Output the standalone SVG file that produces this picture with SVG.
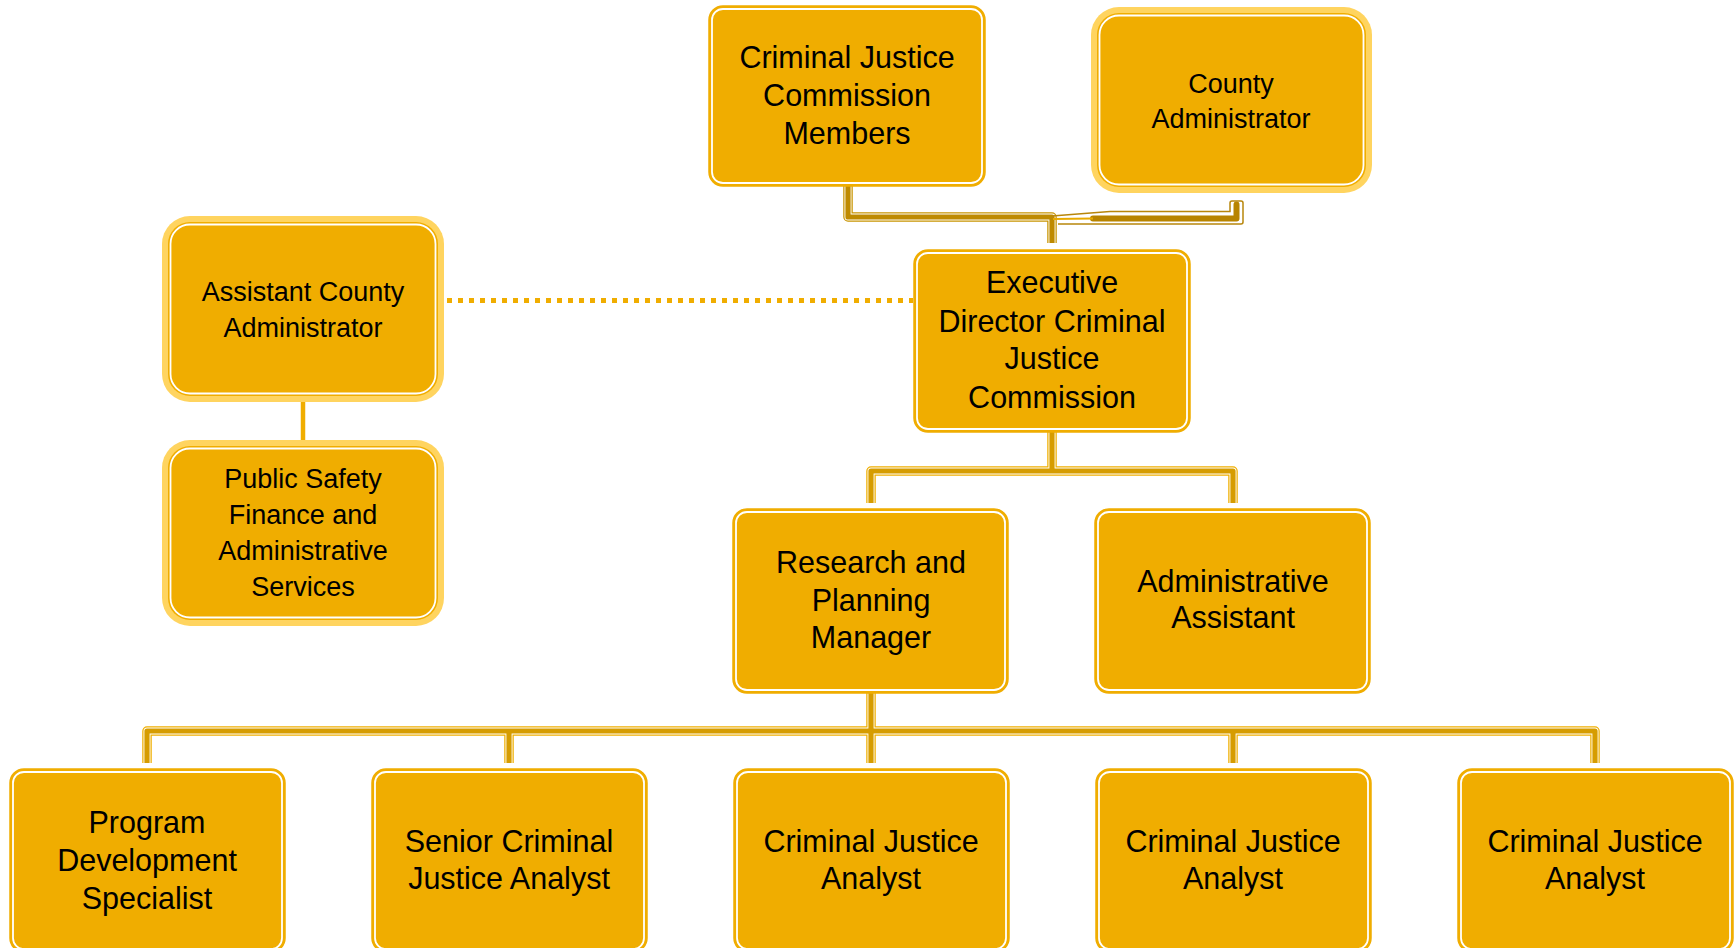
<svg xmlns="http://www.w3.org/2000/svg" xmlns:xlink="http://www.w3.org/1999/xlink" width="1735" height="948" viewBox="0 0 1735 948">
<style>
.bg{fill:#FFFFFF}
.box{fill:#F0AD00;stroke:#F0AD00;stroke-width:1.5}
.inner{fill:none;stroke:#FFFFFF;stroke-width:1.8}
.glow{fill:#FFD45F}
.gbody{fill:#F0AD00}
.t{font-family:"Liberation Sans",Arial,sans-serif;font-size:30.5px;fill:#000000;text-anchor:middle}
.ts{font-family:"Liberation Sans",Arial,sans-serif;font-size:27px;fill:#000000;text-anchor:middle}
.co{fill:none;stroke:#EFAE00;stroke-width:9.5;stroke-linejoin:round}
.cw{fill:none;stroke:#FFFFFF;stroke-width:7;stroke-linejoin:round}
.cd{fill:none;stroke:#D69C00;stroke-width:5.2;stroke-linejoin:round}
.uo{fill:none;stroke:#C89400;stroke-width:9.5;stroke-linejoin:round}
.ud{fill:none;stroke:#BE8A00;stroke-width:5.2;stroke-linejoin:round}
.dot{fill:none;stroke:#F0AD00;stroke-width:5;stroke-dasharray:5 6}
.solid{fill:none;stroke:#F0AD00;stroke-width:4.5}
</style>
<defs>
<path id="p-cjc" d="M848 186 V217 H1052 V243"/>
<path id="p-exec" d="M1052 432 V471 M871 503 V471 H1233 V503"/>
<path id="p-rpm" d="M871 693 V731 M147 763 V731 H1595 V763 M509 731 V763 M871 731 V763 M1233 731 V763"/>
</defs>
<rect class="bg" x="0" y="0" width="1735" height="948"/>
<g id="connectors">
<use xlink:href="#p-cjc" class="uo"/>
<use xlink:href="#p-cjc" class="cw"/>
<use xlink:href="#p-cjc" class="ud"/>
<path d="M1052 216 L1110 211.5 H1230 V203 a2 2 0 0 1 2 -2 H1241 a2 2 0 0 1 2 2 V222 a2 2 0 0 1 -2 2 H1058" fill="none" stroke="#B8860B" stroke-width="1.5"/>
<path d="M1093 218.5 H1236.5 V204.5" fill="none" stroke="#B88400" stroke-width="6" stroke-linecap="round" stroke-linejoin="round"/>
<path d="M1053 219 L1093 218.5" fill="none" stroke="#E8AA00" stroke-width="2"/>
<use xlink:href="#p-exec" class="co"/>
<use xlink:href="#p-exec" class="cw"/>
<use xlink:href="#p-exec" class="cd"/>
<use xlink:href="#p-rpm" class="co"/>
<use xlink:href="#p-rpm" class="cw"/>
<use xlink:href="#p-rpm" class="cd"/>
<path class="dot" d="M447 300.5 H913"/>
<path class="solid" d="M303 401 V440"/>
</g>
<g id="node-cjc-members">
<rect class="box" x="709" y="6" width="276" height="180" rx="14"/>
<rect class="inner" x="712" y="9" width="270" height="174" rx="11"/>
<text class="t"><tspan x="847" y="68">Criminal Justice</tspan><tspan x="847" y="106">Commission</tspan><tspan x="847" y="144">Members</tspan></text>
</g>
<g id="node-county-admin">
<rect class="glow" x="1091" y="7" width="281" height="186" rx="28"/>
<rect class="gbody" x="1097" y="13" width="269" height="174" rx="22"/>
<rect class="inner" x="1099.5" y="15.5" width="264" height="169" rx="19.5"/>
<text class="ts"><tspan x="1231" y="93">County</tspan><tspan x="1231" y="128">Administrator</tspan></text>
</g>
<g id="node-asst-county-admin">
<rect class="glow" x="162" y="216" width="282" height="186" rx="28"/>
<rect class="gbody" x="168" y="222" width="270" height="174" rx="22"/>
<rect class="inner" x="170.5" y="224.5" width="265" height="169" rx="19.5"/>
<text class="ts"><tspan x="303" y="301">Assistant County</tspan><tspan x="303" y="337">Administrator</tspan></text>
</g>
<g id="node-public-safety">
<rect class="glow" x="162" y="440" width="282" height="186" rx="28"/>
<rect class="gbody" x="168" y="446" width="270" height="174" rx="22"/>
<rect class="inner" x="170.5" y="448.5" width="265" height="169" rx="19.5"/>
<text class="ts"><tspan x="303" y="488">Public Safety</tspan><tspan x="303" y="524">Finance and</tspan><tspan x="303" y="560">Administrative</tspan><tspan x="303" y="596">Services</tspan></text>
</g>
<g id="node-exec-director">
<rect class="box" x="914" y="250" width="276" height="182" rx="14"/>
<rect class="inner" x="917" y="253" width="270" height="176" rx="11"/>
<text class="t"><tspan x="1052" y="293">Executive</tspan><tspan x="1052" y="332">Director Criminal</tspan><tspan x="1052" y="369">Justice</tspan><tspan x="1052" y="408">Commission</tspan></text>
</g>
<g id="node-research-planning">
<rect class="box" x="733" y="509" width="275" height="184" rx="14"/>
<rect class="inner" x="736" y="512" width="269" height="178" rx="11"/>
<text class="t"><tspan x="871" y="573">Research and</tspan><tspan x="871" y="611">Planning</tspan><tspan x="871" y="648">Manager</tspan></text>
</g>
<g id="node-admin-assistant">
<rect class="box" x="1095" y="509" width="275" height="184" rx="14"/>
<rect class="inner" x="1098" y="512" width="269" height="178" rx="11"/>
<text class="t"><tspan x="1233" y="592">Administrative</tspan><tspan x="1233" y="628">Assistant</tspan></text>
</g>
<g id="node-program-dev">
<rect class="box" x="10" y="769" width="275" height="183" rx="14"/>
<rect class="inner" x="13" y="772" width="269" height="177" rx="11"/>
<text class="t"><tspan x="147" y="833">Program</tspan><tspan x="147" y="871">Development</tspan><tspan x="147" y="909">Specialist</tspan></text>
</g>
<g id="node-senior-analyst">
<rect class="box" x="372" y="769" width="275" height="183" rx="14"/>
<rect class="inner" x="375" y="772" width="269" height="177" rx="11"/>
<text class="t"><tspan x="509" y="852">Senior Criminal</tspan><tspan x="509" y="889">Justice Analyst</tspan></text>
</g>
<g id="node-analyst-1">
<rect class="box" x="734" y="769" width="275" height="183" rx="14"/>
<rect class="inner" x="737" y="772" width="269" height="177" rx="11"/>
<text class="t"><tspan x="871" y="852">Criminal Justice</tspan><tspan x="871" y="889">Analyst</tspan></text>
</g>
<g id="node-analyst-2">
<rect class="box" x="1096" y="769" width="275" height="183" rx="14"/>
<rect class="inner" x="1099" y="772" width="269" height="177" rx="11"/>
<text class="t"><tspan x="1233" y="852">Criminal Justice</tspan><tspan x="1233" y="889">Analyst</tspan></text>
</g>
<g id="node-analyst-3">
<rect class="box" x="1458" y="769" width="275" height="183" rx="14"/>
<rect class="inner" x="1461" y="772" width="269" height="177" rx="11"/>
<text class="t"><tspan x="1595" y="852">Criminal Justice</tspan><tspan x="1595" y="889">Analyst</tspan></text>
</g>
</svg>
